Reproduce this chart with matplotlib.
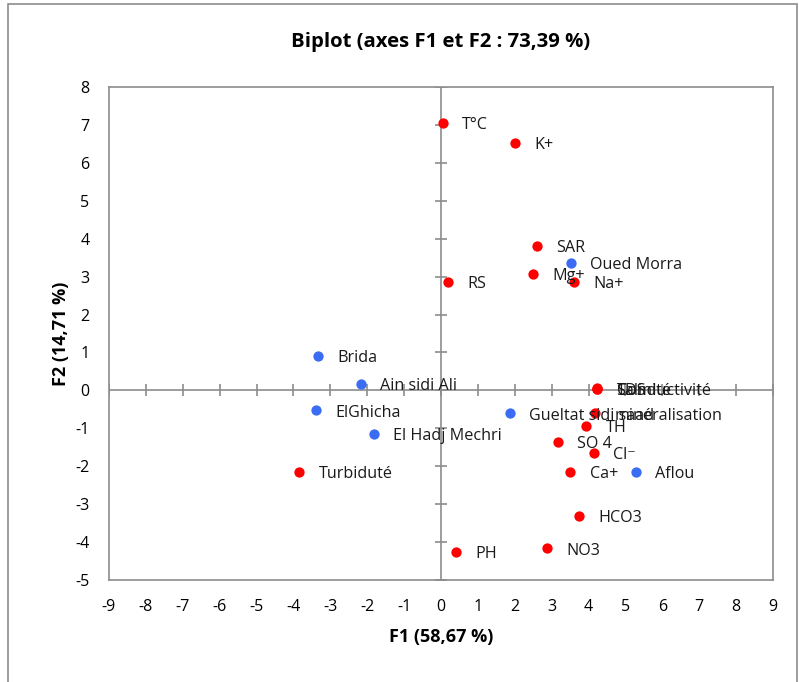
import matplotlib.pyplot as plt
from matplotlib.patches import Rectangle

plt.rcParams['font.family'] = ['Open Sans', 'DejaVu Sans']
plt.rcParams['axes.unicode_minus'] = False

# variables (red) and observations (blue)
var_names = ['T°C', 'K+', 'SAR', 'Mg+', 'Na+', 'RS', 'Turbiduté', 'TDS', 'Salinité',
             'Conductivité', 'minéralisation', 'TH', 'SO 4', 'Cl⁻', 'Ca+', 'HCO3', 'NO3', 'PH']
var_f1 = [0.05, 2.00, 2.60, 2.49, 3.60, 0.19, -3.85, 4.23, 4.22, 4.24, 4.17, 3.93, 3.17,
          4.15, 3.50, 3.74, 2.87, 0.41]
var_f2 = [7.04, 6.52, 3.80, 3.06, 2.85, 2.85, -2.16, 0.05, 0.03, 0.04, -0.61, -0.95, -1.35,
          -1.64, -2.14, -3.32, -4.17, -4.25]

obs_names = ['Oued Morra', 'Brida', 'Ain sidi Ali', 'ElGhicha', 'El Hadj Mechri',
             'Gueltat sidi saad', 'Aflou']
obs_f1 = [3.52, -3.33, -2.17, -3.39, -1.82, 1.87, 5.28]
obs_f2 = [3.35, 0.90, 0.16, -0.53, -1.16, -0.61, -2.14]

xticks = list(range(-9, 10))
yticks = list(range(-5, 9))

fig = plt.figure(figsize=(7.99, 6.82), dpi=100)
ax = fig.add_axes([0.1364, 0.1496, 0.831, 0.7229])

grey = '#8c8c8c'
ax.axhline(0, color=grey, lw=1.2, zorder=1)
ax.axvline(0, color=grey, lw=1.2, zorder=1)
# small cross ticks on the zero lines
ax.plot(xticks, [0] * len(xticks), ls='none', marker='|', ms=9, mew=1.2, color=grey, zorder=1)
ax.plot([0] * len(yticks), yticks, ls='none', marker='_', ms=9, mew=1.2, color=grey, zorder=1)

ax.scatter(var_f1, var_f2, s=55, color='#ff0000', zorder=3, linewidths=0)
ax.scatter(obs_f1, obs_f2, s=55, color='#3a6cf4', zorder=3, linewidths=0)

for n, x, y in zip(var_names + obs_names, var_f1 + obs_f1, var_f2 + obs_f2):
    ax.annotate(n, (x, y), xytext=(14, -1.5), textcoords='offset points',
                fontsize=11.6, va='center', ha='left', color='#1a1a1a', zorder=4)

ax.set_xlim(-9, 9)
ax.set_ylim(-5, 8)
ax.set_xticks(xticks)
ax.set_yticks(yticks)
ax.tick_params(length=0, labelsize=11.5, pad=14)
for s in ax.spines.values():
    s.set_color(grey)
    s.set_linewidth(1.2)

ax.set_xlabel('F1 (58,67 %)', fontsize=13, fontweight='bold', labelpad=9)
ax.set_ylabel('F2 (14,71 %)', fontsize=13, fontweight='bold', labelpad=4)
fig.text(0.5 * (0.1364 + 0.9675), 1 - 42 / 682, 'Biplot (axes F1 et F2 : 73,39 %)',
         ha='center', va='center', fontsize=14.6, fontweight='bold')

# outer chart border
fig.patches.append(Rectangle((8 / 799, -0.1), 789 / 799, 1.1 - 4 / 682, transform=fig.transFigure,
                             fill=False, edgecolor=grey, lw=1.2))

plt.savefig('out.png', dpi=100)
